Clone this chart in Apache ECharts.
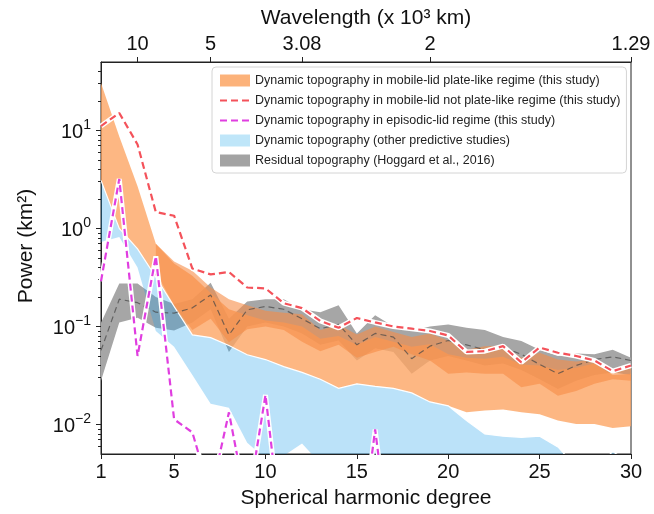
<!DOCTYPE html>
<html>
<head>
  <meta charset="utf-8">
  <title>Topography power spectra</title>
  <script src="https://cdn.jsdelivr.net/npm/echarts@6/dist/echarts.min.js"></script>
  <style>
    html, body { margin: 0; padding: 0; background: #fff; }
    #graph { width: 654px; height: 514px; }
  </style>
</head>
<body>
  <div id="graph"></div>

  <script>
    // spherical harmonic degrees
    var degrees = [1, 2, 3, 4, 5, 6, 7, 8, 9, 10, 11, 12, 13, 14, 15, 16, 17, 18, 19, 20, 21, 22, 23, 24, 25, 26, 27, 28, 29, 30];
    var degreeTicks = [1, 5, 10, 15, 20, 25, 30];
    // top axis: degree -> wavelength (x 10^3 km)
    var wavelengthDegrees = [3, 7, 12, 19, 30];
    var wavelengthLabels = ['10', '5', '3.08', '2', '1.29'];
    var powerTicks = [0.01, 0.1, 1, 10];
    var powerMinorTicks = [0.006, 0.007, 0.008, 0.009, 0.02, 0.03, 0.04, 0.05, 0.06, 0.07, 0.08, 0.09,
      0.2, 0.3, 0.4, 0.5, 0.6, 0.7, 0.8, 0.9, 2, 3, 4, 5, 6, 7, 8, 9, 20, 30, 40];

    var legendNames = [
      'Dynamic topography in mobile-lid plate-like regime (this study)',
      'Dynamic topography in mobile-lid not plate-like regime (this study)',
      'Dynamic topography in episodic-lid regime (this study)',
      'Dynamic topography (other predictive studies)',
      'Residual topography (Hoggard et al., 2016)'
    ];

    // mobile-lid plate-like: two overlapping model ranges
    var plateLowLo = [3.1, 1.0, 0.62, 0.32, 0.16, 0.082, 0.077, 0.064, 0.0515, 0.046, 0.039, 0.034, 0.029, 0.0234, 0.026, 0.0245, 0.0234, 0.021, 0.017, 0.0155, 0.0133, 0.0139, 0.0142, 0.0133, 0.0127, 0.011, 0.0101, 0.0101, 0.0092, 0.0096];
    var plateLowHi = [30.6, 8.7, 2.7, 0.70, 0.44, 0.33, 0.22, 0.15, 0.13, 0.115, 0.11, 0.10, 0.075, 0.08, 0.065, 0.078, 0.07, 0.062, 0.066, 0.052, 0.048, 0.047, 0.049, 0.041, 0.040, 0.036, 0.038, 0.042, 0.032, 0.033];
    var plateHighLo = [null, null, null, 0.36, 0.165, 0.092, 0.12, 0.069, 0.094, 0.1, 0.092, 0.07, 0.056, 0.065, 0.048, 0.055, 0.062, 0.052, 0.045, 0.033, 0.034, 0.033, 0.033, 0.024, 0.026, 0.0196, 0.022, 0.026, 0.029, 0.028];
    var plateHighHi = [null, null, null, 0.70, 0.46, 0.37, 0.25, 0.19, 0.165, 0.145, 0.138, 0.133, 0.092, 0.104, 0.083, 0.10, 0.088, 0.078, 0.085, 0.072, 0.058, 0.063, 0.064, 0.048, 0.054, 0.046, 0.044, 0.046, 0.035, 0.040];

    // mobile-lid not plate-like
    var notPlateLike = [11.1, 15.1, 7.2, 1.47, 1.35, 0.39, 0.34, 0.36, 0.25, 0.245, 0.173, 0.154, 0.114, 0.097, 0.122, 0.11, 0.10, 0.095, 0.09, 0.081, 0.055, 0.056, 0.063, 0.043, 0.061, 0.054, 0.050, 0.045, 0.035, 0.040];

    // episodic-lid (values below the axis run off the plot)
    var episodic = [0.29, 3.2, 0.05, 0.52, 0.0113, 0.0083, 0.0019, 0.0133, 0.0014, 0.020, 0.0005, null, null, null, 0.0003, 0.0089, 0.0003, null, null, null, null, null, null, null, null, null, null, null, null, null];

    // other predictive studies
    var otherLo = [0.73, 0.82, 0.4, 0.09, 0.062, 0.032, 0.0163, 0.0148, 0.0065, 0.0045, 0.0048, 0.0064, 0.004, 0.002, 0.002, 0.002, 0.002, 0.002, 0.002, 0.002, 0.002, 0.002, 0.002, 0.002, 0.002, 0.002, 0.002, 0.002, 0.002, 0.002];
    var otherHi = [3.1, 1.0, 0.62, 0.32, 0.16, 0.082, 0.077, 0.064, 0.0515, 0.046, 0.039, 0.034, 0.029, 0.0234, 0.026, 0.0245, 0.0234, 0.021, 0.017, 0.0155, 0.011, 0.008, 0.0076, 0.0074, 0.0076, 0.0059, 0.0037, 0.0035, 0.0053, 0.004];

    // residual topography (Hoggard et al., 2016)
    var residualLo = [0.028, 0.11, 0.123, 0.097, 0.091, 0.11, 0.15, 0.055, 0.1, 0.11, 0.1, 0.085, 0.065, 0.072, 0.045, 0.06, 0.055, 0.033, 0.045, 0.05, 0.045, 0.04, 0.042, 0.036, 0.029, 0.023, 0.028, 0.032, 0.034, 0.032];
    var residualMid = [0.057, 0.19, 0.175, 0.14, 0.137, 0.155, 0.21, 0.082, 0.148, 0.16, 0.15, 0.12, 0.095, 0.105, 0.065, 0.085, 0.078, 0.047, 0.063, 0.072, 0.065, 0.058, 0.061, 0.052, 0.041, 0.033, 0.04, 0.046, 0.049, 0.045];
    var residualHi = [0.109, 0.275, 0.275, 0.2, 0.17, 0.19, 0.28, 0.12, 0.18, 0.19, 0.19, 0.15, 0.14, 0.165, 0.085, 0.13, 0.1, 0.09, 0.1, 0.105, 0.097, 0.092, 0.078, 0.071, 0.058, 0.05, 0.053, 0.052, 0.058, 0.048];

    var font = '"Liberation Sans", Arial, Helvetica, sans-serif';
    var myChart = echarts.init(document.getElementById('graph'));

    function pairs(values) {
      return degrees.map(function (d, i) { return [d, values[i]]; });
    }

    // filled range between lo and hi, drawn as one polygon through the axes
    function band(name, lo, hi, color, edgeColor) {
      var data = degrees.map(function (d, i) { return [d, lo[i], hi[i]]; })
        .filter(function (p) { return p[1] != null && p[2] != null; });
      return {
        name: name, type: 'custom', silent: true,
        itemStyle: { color: color },
        encode: { x: 0, y: [1, 2] },
        data: data,
        renderItem: function (params, api) {
          if (params.dataIndex !== 0) return null;
          var top = data.map(function (p) { return api.coord([p[0], p[2]]); });
          var bottom = data.map(function (p) { return api.coord([p[0], p[1]]); }).reverse();
          var cs = params.coordSys;
          var children = [{ type: 'polygon', shape: { points: top.concat(bottom) }, style: { fill: color } }];
          if (edgeColor) {
            children.push({ type: 'polyline', shape: { points: top },
              style: { stroke: edgeColor, lineWidth: 1.2, fill: 'none' } });
          }
          return {
            type: 'group', children: children,
            clipPath: { type: 'rect', shape: { x: cs.x, y: cs.y, width: cs.width, height: cs.height } }
          };
        }
      };
    }

    function dashed(name, values, color) {
      return [
        { name: name + '-halo', type: 'line', data: pairs(values), symbol: 'none', silent: true,
          lineStyle: { color: '#fff', width: 5 } },
        { name: name, type: 'line', data: pairs(values), symbol: 'none', silent: true,
          itemStyle: { color: color },
          lineStyle: { color: color, width: 2.2, type: [7, 4] } }
      ];
    }

    function supLabel(v) {
      var e = Math.round(Math.log10(v));
      return '{b|10}{s|' + (e < 0 ? '\u2212' + (-e) : e) + '}';
    }

    var series = [].concat(
      [band(legendNames[4], residualLo, residualHi, 'rgb(166,166,166)')],
      [band('plate-low', plateLowLo, plateLowHi, 'rgba(252,165,100,0.8)')],
      [band(legendNames[0], plateHighLo, plateHighHi, 'rgba(246,140,70,0.6)')],
      [band(legendNames[3], otherLo, otherHi, 'rgba(30,160,235,0.3)', '#fff')],
      [{ name: 'residual-mean', type: 'line', data: pairs(residualMid), symbol: 'none', silent: true,
        lineStyle: { color: 'rgba(70,70,70,0.7)', width: 1.2, type: [6, 4] } }],
      dashed(legendNames[2], episodic, '#e03ee0'),
      dashed(legendNames[1], notPlateLike, '#f4525a')
    );

    var option = {
      animation: false,
      textStyle: { fontFamily: font },
      grid: { left: 101, right: 23, top: 62, bottom: 57, show: true, borderColor: '#222', borderWidth: 1 },
      legend: {
        left: 212, top: 67, orient: 'vertical', selectedMode: false,
        itemWidth: 30, itemHeight: 12, itemGap: 7,
        padding: [7, 6, 6, 7],
        backgroundColor: 'rgba(255,255,255,0.85)', borderColor: '#d4d4d4', borderWidth: 1, borderRadius: 4,
        textStyle: { fontFamily: font, fontSize: 12.5, color: '#222' },
        data: [
          { name: legendNames[0], icon: 'rect', itemStyle: { color: '#fcb27a', borderWidth: 0 } },
          { name: legendNames[1], itemStyle: { opacity: 0 } },
          { name: legendNames[2], itemStyle: { opacity: 0 } },
          { name: legendNames[3], icon: 'rect', itemStyle: { color: '#bfe6f9', borderWidth: 0 } },
          { name: legendNames[4], icon: 'rect', itemStyle: { color: '#a3a3a3', borderWidth: 0 } }
        ]
      },
      xAxis: [{
        type: 'value', min: 1, max: 30, position: 'bottom',
        name: 'Spherical harmonic degree', nameLocation: 'middle', nameGap: 34,
        nameTextStyle: { fontSize: 21, color: '#111' },
        axisLine: { lineStyle: { color: '#222' } },
        axisTick: { customValues: degreeTicks, length: 5, lineStyle: { color: '#222' } },
        axisLabel: { customValues: degreeTicks, fontSize: 20, color: '#111', margin: 8 },
        splitLine: { show: false }
      }, {
        type: 'value', min: 1, max: 30, position: 'top',
        name: 'Wavelength (x 10\u00b3 km)', nameLocation: 'middle', nameGap: 33,
        nameTextStyle: { fontSize: 21, color: '#111' },
        axisLine: { lineStyle: { color: '#222' } },
        axisTick: { customValues: wavelengthDegrees, length: 5, lineStyle: { color: '#222' } },
        axisLabel: {
          customValues: wavelengthDegrees, fontSize: 20, color: '#111', margin: 8,
          formatter: function (v) { return wavelengthLabels[wavelengthDegrees.indexOf(v)]; }
        },
        splitLine: { show: false }
      }],
      yAxis: [{
        type: 'log', logBase: 10, min: 0.005, max: 50,
        name: 'Power (km\u00b2)', nameLocation: 'middle', nameGap: 64,
        nameTextStyle: { fontSize: 21, color: '#111', padding: [0, 0, 0, 24] },
        axisLine: { show: true, lineStyle: { color: '#222' } },
        axisTick: { show: true, customValues: powerTicks, length: 5, lineStyle: { color: '#222' } },
        axisLabel: {
          customValues: powerTicks, margin: 10, formatter: supLabel,
          rich: {
            b: { fontSize: 20, color: '#111', lineHeight: 24, verticalAlign: 'bottom' },
            s: { fontSize: 14, color: '#111', verticalAlign: 'top' }
          }
        },
        splitLine: { show: false }
      }, {
        type: 'log', logBase: 10, min: 0.005, max: 50, position: 'left',
        axisLine: { show: false },
        axisTick: { show: true, customValues: powerMinorTicks, length: 3, lineStyle: { color: '#222' } },
        axisLabel: { show: false },
        splitLine: { show: false }
      }],
      series: series
    };

    myChart.setOption(option);
  </script>
</body>
</html>
